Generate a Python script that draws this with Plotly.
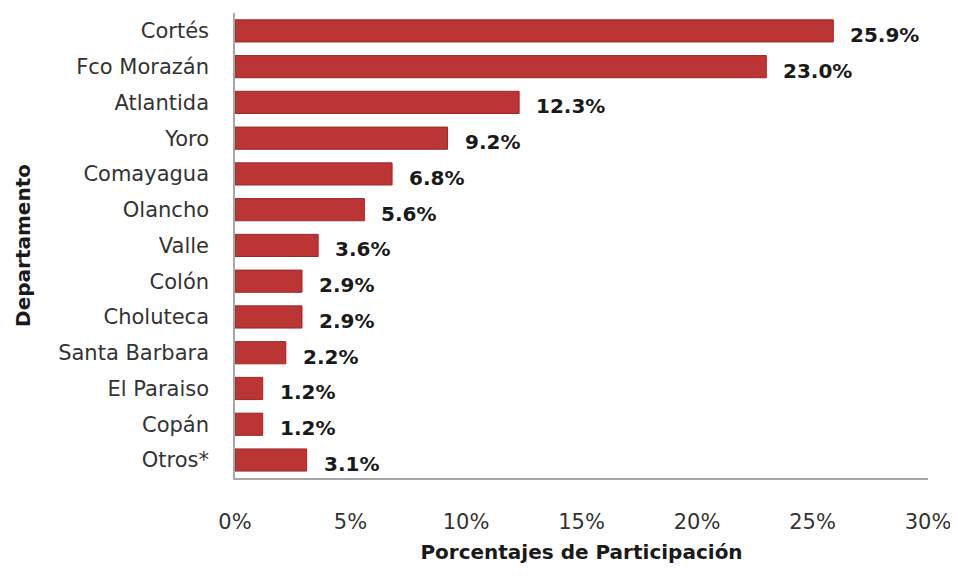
import plotly.graph_objects as go

# ==========================================================
# Data
# ==========================================================

departamentos = [
    "Cortés", "Fco Morazán", "Atlantida", "Yoro", "Comayagua", "Olancho",
    "Valle", "Colón", "Choluteca", "Santa Barbara", "El Paraiso", "Copán",
    "Otros*",
]

participacion = [25.9, 23.0, 12.3, 9.2, 6.8, 5.6, 3.6, 2.9, 2.9, 2.2, 1.2, 1.2, 3.1]

x_ticks = [0, 5, 10, 15, 20, 25, 30]
x_tick_labels = ["0%", "5%", "10%", "15%", "20%", "25%", "30%"]

FONT = "DejaVu Sans"

# ==========================================================
# Bar Chart
# ==========================================================

fig = go.Figure(

    go.Bar(

        x=participacion,

        y=departamentos,

        orientation="h",

        marker=dict(
            color="#BC3535",
            line=dict(width=1, color="#9A2A2A")
        ),

        hovertemplate="<b>%{y}</b><br>%{x:.1f}%<extra></extra>"

    )

)

for dep, val in zip(departamentos, participacion):

    fig.add_annotation(

        x=val,

        y=dep,

        text=f"<b>{val:.1f}%</b>",

        showarrow=False,

        xanchor="left",

        xshift=15,

        yshift=-4,

        font=dict(family=FONT, size=20, color="#1a1a1a")

    )

# page body has an 8px margin, so the margins are offset by it
fig.update_layout(

    width=958,

    height=578,

    margin=dict(l=227, r=38, t=5, b=108),

    plot_bgcolor="white",

    paper_bgcolor="white",

    bargap=0.38,

    showlegend=False,

    font=dict(family=FONT, size=18, color="#333333")

)

fig.update_xaxes(

    range=[0, 30],

    tickvals=x_ticks,

    ticktext=x_tick_labels,

    showgrid=False,

    zeroline=False,

    showline=True,

    linecolor="#A6A6A6",

    linewidth=1.5,

    ticks="",

    automargin=False,

    ticklabelstandoff=24,

    tickfont=dict(family=FONT, size=21, color="#333333"),

    title=dict(
        text="<b>Porcentajes de Participación</b>",
        standoff=12,
        font=dict(family=FONT, size=20, color="#1a1a1a")
    )

)

fig.update_yaxes(

    categoryorder="array",

    categoryarray=departamentos[::-1],

    showgrid=False,

    showline=True,

    linecolor="#A6A6A6",

    linewidth=1.5,

    ticks="",

    automargin=False,

    ticklabelstandoff=20,

    tickfont=dict(family=FONT, size=21, color="#333333"),

    title=dict(
        text="<b>Departamento</b>",
        standoff=22,
        font=dict(family=FONT, size=20, color="#1a1a1a")
    )

)

fig.write_html("out.html")
